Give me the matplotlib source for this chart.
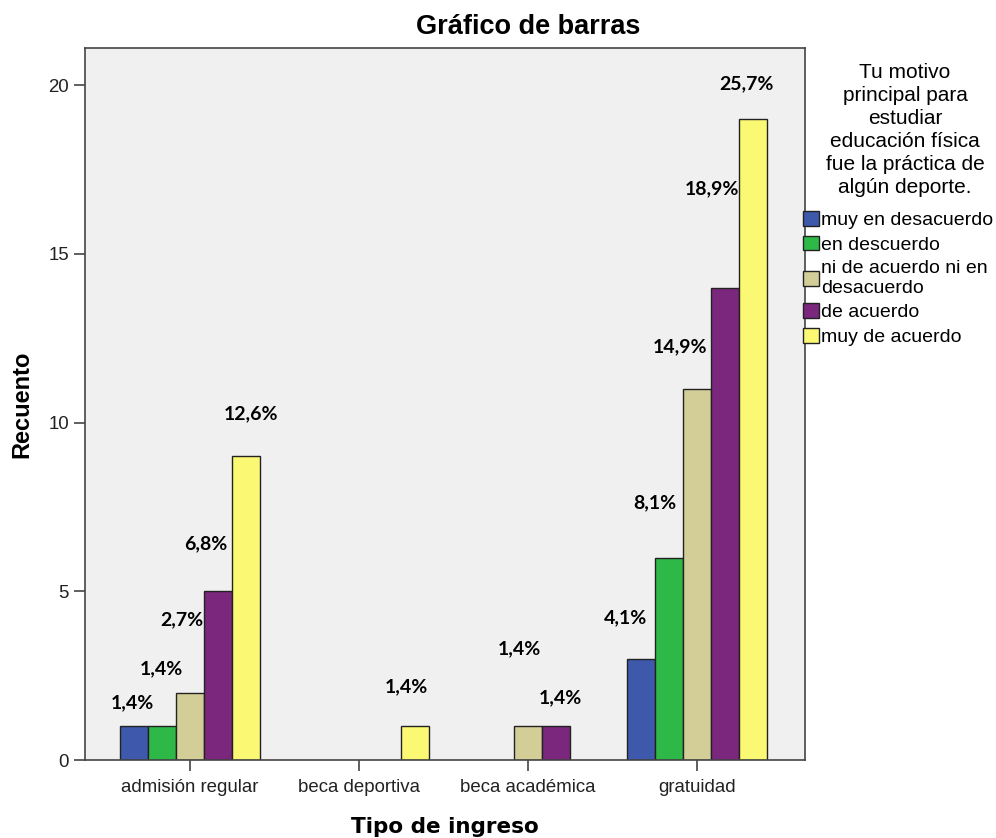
import numpy as np
import matplotlib
matplotlib.use("Agg")
import matplotlib.pyplot as plt
from matplotlib.patches import Patch

# data
categorias = ['admisión regular', 'beca deportiva', 'beca académica', 'gratuidad']
respuestas = ['muy en desacuerdo', 'en descuerdo', 'ni de acuerdo ni en\ndesacuerdo',
              'de acuerdo', 'muy de acuerdo']
muy_en_desacuerdo = [1, 0, 0, 3]
en_descuerdo = [1, 0, 0, 6]
ni_ni = [2, 0, 1, 11]
de_acuerdo = [5, 0, 1, 14]
muy_de_acuerdo = [9, 1, 0, 19]

# percentage labels as printed (None = no label)
etiq_muy_en_desacuerdo = ['1,4%', None, None, '4,1%']
etiq_en_descuerdo = ['1,4%', None, None, '8,1%']
etiq_ni_ni = ['2,7%', None, '1,4%', '14,9%']
etiq_de_acuerdo = ['6,8%', None, '1,4%', '18,9%']
etiq_muy_de_acuerdo = ['12,6%', '1,4%', None, '25,7%']

series = [muy_en_desacuerdo, en_descuerdo, ni_ni, de_acuerdo, muy_de_acuerdo]
etiquetas = [etiq_muy_en_desacuerdo, etiq_en_descuerdo, etiq_ni_ni,
             etiq_de_acuerdo, etiq_muy_de_acuerdo]
colores = ['#3E58AC', '#2EB848', '#D3CE97', '#7B277D', '#FBF873']

# label offsets (pixels from bar top centre), SPSS staggers them
offsets = [
    [(-1, 24), None, None, (-15, 41)],
    [(0, 58), None, None, (-14, 55)],
    [(-8, 73), None, (-8, 78), (-17, 42)],
    [(-12, 48), None, (5, 29), (-13, 99)],
    [(5, 43), (-8, 40), None, (-6, 35)],
]

W, H = 996, 838
fig = plt.figure(figsize=(W / 100, H / 100), dpi=100)
ax = fig.add_axes([85 / W, (H - 760) / H, 720 / W, (760 - 48) / H])
ax.set_facecolor('#F0F0F0')

x = np.arange(len(categorias))
w = 28 / 169
for j, vals in enumerate(series):
    pos = x + (j - 2) * w
    for i, v in enumerate(vals):
        if v == 0:
            continue
        ax.bar(pos[i], v, width=w, color=colores[j], edgecolor='#222222',
               linewidth=1.0, zorder=2)
        lab = etiquetas[j][i]
        if lab is not None:
            dx, dy = offsets[j][i]
            ax.annotate(lab, (pos[i], v), xytext=(dx * 0.72, dy * 0.72),
                        textcoords='offset points', ha='center', va='center',
                        fontsize=14, fontweight='bold', family='Lato', color='black')

ax.set_xlim(-0.62, 3.64)
ax.set_ylim(0, 21.1)
ax.set_yticks([0, 5, 10, 15, 20])
ax.set_xticks(x)
ax.set_xticklabels(categorias)
ax.tick_params(axis='both', direction='out', length=8, width=1.2, color='#444444',
               labelsize=13.4, labelcolor='#222222')
ax.tick_params(axis='x', pad=6)
for lab in ax.get_xticklabels() + ax.get_yticklabels():
    lab.set_family('Liberation Sans')
for s in ax.spines.values():
    s.set_color('#444444')
    s.set_linewidth(1.2)

ax.set_ylabel('Recuento', fontsize=17, fontweight='bold', family='Liberation Sans')
ax.yaxis.set_label_coords(-52 / 720, 0.5)
ax.set_xlabel('Tipo de ingreso', fontsize=15.5, fontweight='bold', family='DejaVu Sans')
ax.xaxis.set_label_coords(0.5, -57 / 712)

fig.text(528 / W, 1 - 27 / H, 'Gráfico de barras', ha='center', va='center',
         fontsize=19.5, fontweight='bold', family='Liberation Sans')

# legend title
fig.text(905 / W, 1 - 63 / H,
         'Tu motivo\nprincipal para\nestudiar\neducación física\nfue la práctica de\nalgún deporte.',
         ha='center', va='top', multialignment='center', fontsize=15,
         linespacing=1.27, family='Liberation Sans')

handles = [Patch(facecolor=c, edgecolor='#222222', linewidth=1.0) for c in colores]
leg = fig.legend(handles, respuestas,
                 loc='upper left', bbox_to_anchor=(803 / W, 1 - 211 / H),
                 frameon=False, handlelength=0.8, handleheight=0.8, handletextpad=0.15,
                 labelspacing=0.33, borderpad=0, borderaxespad=0,
                 prop={'family': 'Liberation Sans', 'size': 14.0})

fig.savefig('out.png', dpi=100)
